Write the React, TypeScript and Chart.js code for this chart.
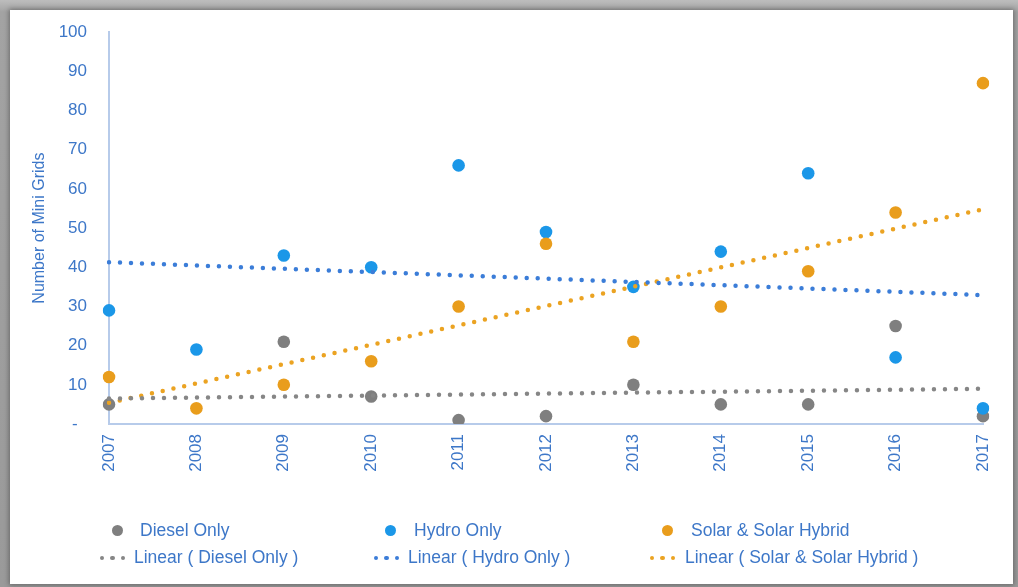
import React, { useEffect, useRef } from 'react';
import { Chart, registerables } from 'chart.js';

Chart.register(...registerables);

// Installed mini grids per year and technology
const years = ['2007', '2008', '2009', '2010', '2011', '2012', '2013', '2014', '2015', '2016', '2017'];
const dieselOnly = [5, null, 21, 7, 1, 2, 10, 5, 5, 25, 2];
const hydroOnly = [29, 19, 43, 40, 66, 49, 35, 44, 64, 17, 4];
const solarHybrid = [12, 4, 10, 16, 30, 46, 21, 30, 39, 54, 87];

// Linear trend values at the first and last year
const dieselTrend = [6.5, 9];
const hydroTrend = [41.3, 32.9];
const solarTrend = [5.4, 54.8];

const seriesNames = ['Diesel Only', 'Hydro Only', 'Solar & Solar Hybrid'];
const pointColors = ['#7f7f7f', '#1b97e8', '#e99d1c'];
const trendColors = ['#868686', '#3b7dd8', '#eba322'];

const yMin = 0;
const yMax = 100;
const yStep = 10;
const yTitle = 'Number of Mini Grids';

const TEXT = '#3d77c8';
const AXIS = '#b7cbea';
const FONT = '"Liberation Sans", Arial, Helvetica, sans-serif';

const trendLabel = (name: string) => `Linear ( ${name} )`;

function App() {
  const canvasRef = useRef<HTMLCanvasElement | null>(null);

  useEffect(() => {
    document.body.style.margin = '0';
    const canvas = canvasRef.current;
    if (!canvas) return;

    const values = [dieselOnly, hydroOnly, solarHybrid];
    const trends = [dieselTrend, hydroTrend, solarTrend];
    const last = years[years.length - 1];

    const trendSets = trends.map((t, i) => ({
      type: 'line' as const,
      label: trendLabel(seriesNames[i]),
      data: [
        { x: years[0], y: t[0] },
        { x: last, y: t[1] },
      ],
      borderColor: trendColors[i],
      borderWidth: 4.5,
      borderDash: [0, 11],
      borderCapStyle: 'round' as const,
      pointRadius: 0,
      pointHoverRadius: 0,
      fill: false,
      order: 0,
    }));

    const pointSets = values.map((v, i) => ({
      type: 'line' as const,
      label: seriesNames[i],
      data: v,
      showLine: false,
      backgroundColor: pointColors[i],
      borderColor: pointColors[i],
      pointRadius: 6.3,
      pointHoverRadius: 6.3,
      pointBorderWidth: 0,
      order: 3 - i,
    }));

    const chart = new Chart(canvas, {
      type: 'line',
      data: {
        labels: years,
        datasets: [...trendSets, ...pointSets] as any,
      },
      options: {
        animation: false,
        responsive: false,
        layout: { padding: { left: 0, top: 32, right: 35, bottom: 0 } },
        plugins: {
          legend: { display: false },
          tooltip: { enabled: false },
        },
        scales: {
          x: {
            type: 'category',
            offset: false,
            grid: { display: false, drawTicks: false },
            border: { display: true, color: AXIS, width: 2 },
            ticks: {
              color: TEXT,
              font: { family: FONT, size: 17 },
              minRotation: 90,
              maxRotation: 90,
              autoSkip: false,
              padding: 10,
            },
            afterFit: (scale: any) => {
              scale.height = 163;
            },
          },
          y: {
            min: yMin,
            max: yMax,
            grid: { display: false, drawTicks: false },
            border: { display: true, color: AXIS, width: 2 },
            ticks: {
              stepSize: yStep,
              color: TEXT,
              font: { family: FONT, size: 17 },
              padding: 22,
              callback: (v: any) => (Number(v) === 0 ? '-  ' : String(v)),
            },
            title: {
              display: true,
              text: yTitle,
              color: TEXT,
              font: { family: FONT, size: 16 },
              padding: { top: 30, bottom: 0 },
            },
            afterFit: (scale: any) => {
              scale.width = 109;
            },
          },
        },
      },
    });

    return () => chart.destroy();
  }, []);

  // legend columns: marker centre / text start for the two rows
  const columns = [
    { dot: 117, text: 140, dots: 102, trendText: 134 },
    { dot: 390, text: 414, dots: 376, trendText: 408 },
    { dot: 667, text: 691, dots: 652, trendText: 685 },
  ];

  const textStyle: React.CSSProperties = {
    position: 'absolute',
    fontFamily: FONT,
    fontSize: '17.5px',
    color: TEXT,
    whiteSpace: 'nowrap',
    lineHeight: '20px',
  };

  return (
    <div
      style={{
        position: 'relative',
        width: 1018,
        height: 587,
        overflow: 'hidden',
        background: 'linear-gradient(180deg, #bdbdbd 0px, #a3a3a3 12px, #9a9a9a 100%)',
      }}
    >
      <div
        style={{
          position: 'absolute',
          left: 10,
          top: 10,
          width: 1003,
          height: 574,
          background: '#ffffff',
          boxShadow: '0 0 5px 1px rgba(0,0,0,0.35)',
        }}
      />
      <canvas
        ref={canvasRef}
        width={1018}
        height={587}
        style={{ position: 'absolute', left: 0, top: 0, width: 1018, height: 587 }}
      />
      {seriesNames.map((name, i) => {
        const c = columns[i];
        return (
          <React.Fragment key={name}>
            <span
              style={{
                position: 'absolute',
                left: c.dot - 5.5,
                top: 530 - 5.5,
                width: 11,
                height: 11,
                borderRadius: '50%',
                background: pointColors[i],
              }}
            />
            <span style={{ ...textStyle, left: c.text, top: 520 }}>{name}</span>
            {[0, 1, 2].map((k) => (
              <span
                key={k}
                style={{
                  position: 'absolute',
                  left: c.dots + k * 10.5 - 2.25,
                  top: 558 - 2.25,
                  width: 4.5,
                  height: 4.5,
                  borderRadius: '50%',
                  background: trendColors[i],
                }}
              />
            ))}
            <span style={{ ...textStyle, left: c.trendText, top: 547 }}>{trendLabel(name)}</span>
          </React.Fragment>
        );
      })}
    </div>
  );
}

export default App;
